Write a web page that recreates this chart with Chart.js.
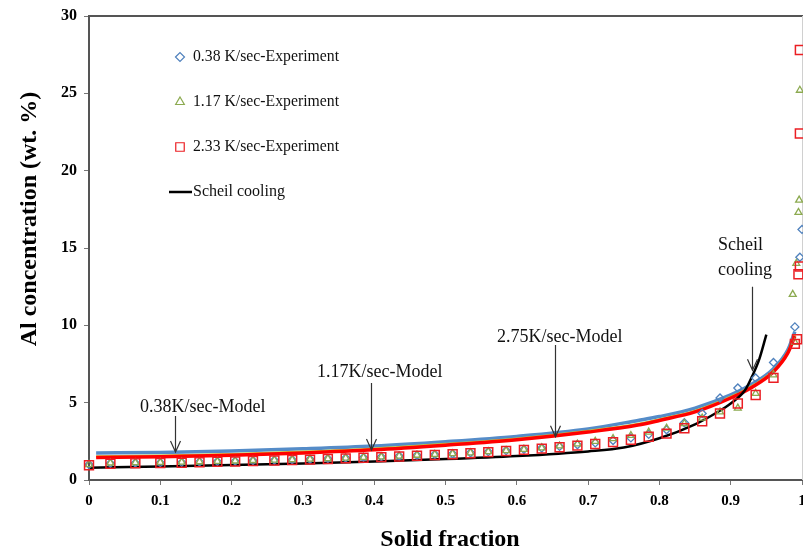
<!DOCTYPE html>
<html>
<head>
<meta charset="utf-8">
<script src="https://cdn.jsdelivr.net/npm/chart.js@4.4.1/dist/chart.umd.min.js"></script>
<style>
    html, body { margin: 0; padding: 0; background: #fff; }
    canvas { display: block; }
</style>
</head>
<body>
<canvas id="segregationChart" width="803" height="553"></canvas>
<script>
// _+_+_+_+_+_+_+_ DATA _+_+_+_+_+_+_+_

// experiment points, shared solid fraction positions
const expX = [0, 0.03, 0.065, 0.1, 0.13, 0.155, 0.18, 0.205, 0.23, 0.26, 0.285, 0.31, 0.335, 0.36, 0.385,
    0.41, 0.435, 0.46, 0.485, 0.51, 0.535, 0.56, 0.585, 0.61, 0.635, 0.66, 0.685, 0.71, 0.735, 0.76,
    0.785, 0.81, 0.835, 0.86, 0.885, 0.91, 0.935, 0.96, 0.99]
const exp038Y = [1.0, 1.08, 1.1, 1.12, 1.14, 1.17, 1.2, 1.22, 1.25, 1.28, 1.31, 1.34, 1.38, 1.42, 1.46,
    1.5, 1.55, 1.6, 1.65, 1.7, 1.76, 1.83, 1.9, 1.98, 2.07, 2.17, 2.28, 2.4, 2.55, 2.72,
    2.95, 3.25, 3.7, 4.3, 5.3, 5.95, 6.6, 7.6, 9.9]
const exp117Y = [1.0, 1.1, 1.12, 1.14, 1.16, 1.18, 1.2, 1.23, 1.26, 1.29, 1.32, 1.35, 1.38, 1.42, 1.46,
    1.5, 1.55, 1.6, 1.65, 1.7, 1.76, 1.83, 1.9, 1.98, 2.08, 2.2, 2.33, 2.5, 2.68, 2.88,
    3.1, 3.35, 3.65, 4.0, 4.4, 4.65, 5.6, 6.8, 8.9]
const exp233Y = [0.95, 1.05, 1.08, 1.1, 1.12, 1.15, 1.18, 1.2, 1.23, 1.26, 1.29, 1.32, 1.36, 1.4, 1.44,
    1.48, 1.52, 1.57, 1.62, 1.67, 1.73, 1.8, 1.87, 1.95, 2.03, 2.12, 2.22, 2.33, 2.45, 2.6,
    2.8, 3.0, 3.35, 3.8, 4.3, 4.95, 5.5, 6.6, 8.8]

// last points, right at the end of solidification
const tail038X = [0.997, 1.0]
const tail038Y = [14.4, 16.2]
const tail117X = [0.987, 0.992, 0.995, 0.996, 0.997]
const tail117Y = [12.0, 14.0, 17.3, 18.1, 25.2]
const tail233X = [0.993, 0.995, 0.997, 0.997, 0.997]
const tail233Y = [9.1, 13.3, 13.8, 22.4, 27.8]

// model curves
const modelX = [0.01, 0.1, 0.2, 0.3, 0.4, 0.5, 0.6, 0.7, 0.77, 0.8, 0.85, 0.9, 0.93, 0.96, 0.98, 0.99]
const model038Y = [1.75, 1.78, 1.88, 2.02, 2.2, 2.48, 2.82, 3.3, 3.85, 4.1, 4.65, 5.5, 6.2, 7.2, 8.4, 9.6]
const model117Y = [1.52, 1.57, 1.67, 1.82, 2.02, 2.32, 2.67, 3.17, 3.62, 3.92, 4.47, 5.37, 6.07, 7.07, 8.27, 9.38]
const model275Y = [1.45, 1.5, 1.6, 1.75, 1.95, 2.25, 2.6, 3.1, 3.55, 3.85, 4.4, 5.3, 6.0, 7.0, 8.2, 9.3]

// scheil curve
const scheilX = [0, 0.1, 0.2, 0.3, 0.4, 0.5, 0.6, 0.7, 0.75, 0.8, 0.85, 0.88, 0.9, 0.92, 0.93, 0.94, 0.95]
const scheilY = [0.8, 0.88, 0.97, 1.07, 1.2, 1.35, 1.55, 1.85, 2.1, 2.7, 3.6, 4.35, 4.95, 5.8, 6.7, 7.8, 9.4]

const legendLabels = ['0.38 K/sec-Experiment', '1.17 K/sec-Experiment', '2.33 K/sec-Experiment', 'Scheil cooling']
const xTitle = 'Solid fraction'
const yTitle = 'Al concentration (wt. %)'

// arrow annotations: where each arrow sits (in data units) and its text
const notes = [
    { text: ['0.38K/sec-Model'], arrowX: 0.12, from: 4.14, to: 1.81 },
    { text: ['1.17K/sec-Model'], arrowX: 0.396, from: 6.27, to: 1.94 },
    { text: ['2.75K/sec-Model'], arrowX: 0.654, from: 8.73, to: 2.8 },
    { text: ['Scheil', 'cooling'], arrowX: 0.93, from: 12.5, to: 7.1 }
]

// _+_+_+_+_+_+_+_ HELPERS _+_+_+_+_+_+_+_
function toPoints(xs, ys) {
    return xs.map((x, i) => ({ x: x, y: ys[i] }))
}

const SERIF = "'Liberation Serif', 'Times New Roman', serif"
const BLUE = 'rgb(79,129,189)'
const GREEN = 'rgb(140,170,80)'
const RED = 'rgb(235,30,35)'

// text placement for the annotations (pixels)
const notePos = [
    [{ x: 140, y: 407 }],
    [{ x: 317, y: 372 }],
    [{ x: 497, y: 337 }],
    [{ x: 718, y: 245 }, { x: 718, y: 270 }]
]

const decorPlugin = {
    id: 'decor',
    beforeDatasetsDraw(chart) {
        const { ctx, chartArea: a } = chart
        ctx.save()
        // frame top + faint right edge
        ctx.strokeStyle = '#555'
        ctx.lineWidth = 2
        ctx.beginPath()
        ctx.moveTo(a.left, a.top)
        ctx.lineTo(a.right + 2, a.top)
        ctx.stroke()
        ctx.strokeStyle = '#d0d0d0'
        ctx.lineWidth = 1
        ctx.beginPath()
        ctx.moveTo(a.right + 0.5, a.top)
        ctx.lineTo(a.right + 0.5, a.bottom)
        ctx.stroke()
        ctx.restore()
    },
    afterDraw(chart) {
        const { ctx, scales: { x, y } } = chart
        ctx.save()

        // ARROWS + LABELS
        notes.forEach((n, k) => {
            const px = Math.round(x.getPixelForValue(n.arrowX)) + 0.5
            const y1 = y.getPixelForValue(n.from)
            const y2 = y.getPixelForValue(n.to)
            ctx.strokeStyle = '#333'
            ctx.lineWidth = 1.2
            ctx.beginPath()
            ctx.moveTo(px, y1)
            ctx.lineTo(px, y2)
            ctx.moveTo(px - 5, y2 - 11)
            ctx.lineTo(px, y2)
            ctx.lineTo(px + 5, y2 - 11)
            ctx.stroke()

            ctx.fillStyle = '#111'
            ctx.font = '18px ' + SERIF
            ctx.textAlign = 'left'
            ctx.textBaseline = 'middle'
            n.text.forEach((t, i) => ctx.fillText(t, notePos[k][i].x, notePos[k][i].y))
        })

        // LEGEND
        const legendRows = [57, 102, 147, 192]
        const styles = [
            { pointStyle: 'rectRot', radius: 4.5, color: BLUE },
            { pointStyle: 'triangle', radius: 5, color: GREEN },
            { pointStyle: 'rect', radius: 6, color: RED }
        ]
        styles.forEach((s, i) => {
            ctx.strokeStyle = s.color
            ctx.fillStyle = 'rgba(255,255,255,0)'
            ctx.lineWidth = 1.2
            Chart.helpers.drawPoint(ctx, { pointStyle: s.pointStyle, radius: s.radius, rotation: 0, borderWidth: 1.2 }, 180, legendRows[i])
        })
        ctx.strokeStyle = '#000'
        ctx.lineWidth = 2.5
        ctx.beginPath()
        ctx.moveTo(169, legendRows[3])
        ctx.lineTo(192, legendRows[3])
        ctx.stroke()

        ctx.fillStyle = '#111'
        ctx.font = '16px ' + SERIF
        ctx.textAlign = 'left'
        ctx.textBaseline = 'middle'
        legendLabels.forEach((t, i) => ctx.fillText(t, 193, legendRows[i], 146))

        // AXIS TITLES
        ctx.fillStyle = '#000'
        ctx.font = 'bold 24px ' + SERIF
        ctx.textAlign = 'center'
        ctx.fillText(xTitle, 450, 540)
        ctx.translate(30, 219)
        ctx.rotate(-Math.PI / 2)
        ctx.fillText(yTitle, 0, 0)

        ctx.restore()
    }
}

// _+_+_+_+_+_+_+_ CHART _+_+_+_+_+_+_+_
const markerBase = { showLine: false, borderWidth: 1.3, backgroundColor: 'rgba(255,255,255,0)', clip: false }
const lineBase = { showLine: true, pointRadius: 0, fill: false, cubicInterpolationMode: 'monotone' }

new Chart(document.getElementById('segregationChart'), {
    type: 'scatter',
    data: {
        datasets: [
            { ...markerBase, label: legendLabels[0], data: toPoints(expX.concat(tail038X), exp038Y.concat(tail038Y)),
              pointStyle: 'rectRot', pointRadius: 4, borderColor: BLUE, order: 2 },
            { ...markerBase, label: legendLabels[1], data: toPoints(expX.concat(tail117X), exp117Y.concat(tail117Y)),
              pointStyle: 'triangle', pointRadius: 4, borderColor: GREEN, order: 1 },
            { ...markerBase, label: legendLabels[2], data: toPoints(expX.concat(tail233X), exp233Y.concat(tail233Y)),
              pointStyle: 'rect', pointRadius: 6.3, borderColor: RED, borderWidth: 1.5, order: 0 },
            { ...lineBase, label: '0.38K/sec-Model', data: toPoints(modelX, model038Y), borderColor: 'rgb(85,140,200)', borderWidth: 3.5, order: 6 },
            { ...lineBase, label: '1.17K/sec-Model', data: toPoints(modelX, model117Y), borderColor: 'rgb(200,200,60)', borderWidth: 2.5, order: 5 },
            { ...lineBase, label: '2.75K/sec-Model', data: toPoints(modelX, model275Y), borderColor: 'rgb(255,0,0)', borderWidth: 3.5, order: 4 },
            { ...lineBase, label: legendLabels[3], data: toPoints(scheilX, scheilY), borderColor: '#000', borderWidth: 2.5, order: 3 }
        ]
    },
    options: {
        responsive: false,
        animation: false,
        devicePixelRatio: 1,
        layout: { autoPadding: false, padding: { top: 16, right: 1, left: 0, bottom: 0 } },
        plugins: {
            legend: { display: false },
            tooltip: { enabled: false }
        },
        scales: {
            x: {
                type: 'linear',
                min: 0,
                max: 1,
                ticks: {
                    stepSize: 0.1,
                    padding: 7,
                    color: '#000',
                    font: { family: SERIF, size: 15, weight: 'bold' },
                    callback: v => String(+v.toFixed(1))
                },
                grid: { drawOnChartArea: false, drawTicks: true, tickLength: 5, color: '#777' },
                border: { color: '#555', width: 2 },
                afterFit(scale) {
                    scale.height = 73
                    scale.paddingLeft = 0
                    scale.paddingRight = 0
                }
            },
            y: {
                type: 'linear',
                min: 0,
                max: 30,
                ticks: {
                    stepSize: 5,
                    padding: 7,
                    color: '#000',
                    font: { family: SERIF, size: 16, weight: 'bold' }
                },
                grid: { drawOnChartArea: false, drawTicks: true, tickLength: 5, color: '#777' },
                border: { color: '#555', width: 2 },
                afterFit(scale) {
                    scale.width = 89
                    scale.paddingTop = 0
                    scale.paddingBottom = 0
                }
            }
        }
    },
    plugins: [decorPlugin]
});
</script>
</body>
</html>
